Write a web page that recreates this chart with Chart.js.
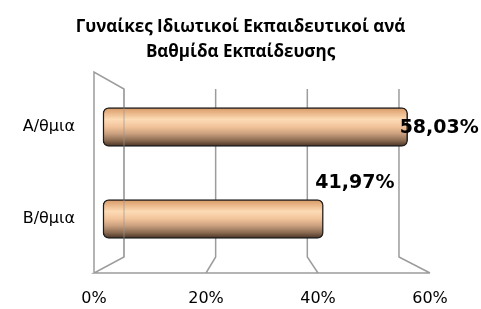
<!DOCTYPE html>
<html>
<head>
<meta charset="utf-8">
<script src="https://cdn.jsdelivr.net/npm/chart.js@4"></script>
<style>
  html, body { margin: 0; padding: 0; background: #fff; }
  #wrap { width: 481px; height: 309px; }
</style>
</head>
<body>
<div id="wrap"><canvas id="chart" width="481" height="309"></canvas></div>
<script>
const categories = ['Α/θμια', 'Β/θμια'];
const values = [58.03, 41.97];
const tickValues = [0, 20, 40, 60];
const titleLines = ['Γυναίκες Ιδιωτικοί Εκπαιδευτικοί ανά', 'Βαθμίδα Εκπαίδευσης'];

const gridColor = '#9c9c9c';

// back wall / floor of the fake 3d frame
const framePlugin = {
  id: 'frame',
  beforeDatasetsDraw(chart) {
    const ctx = chart.ctx;
    const area = chart.chartArea;
    const front = chart.scales.xt;
    const back = chart.scales.xg;
    const fTop = area.top - 9, fBot = area.bottom + 8;
    const bTop = area.top + 8, bBot = area.bottom - 8;

    ctx.save();
    ctx.strokeStyle = gridColor;
    ctx.lineWidth = 1.5;
    ctx.beginPath();
    // left wall
    const f0 = front.getPixelForValue(0), b0 = back.getPixelForValue(0);
    ctx.moveTo(f0, fBot);
    ctx.lineTo(f0, fTop);
    ctx.lineTo(b0, bTop);
    ctx.lineTo(b0, bBot);
    ctx.lineTo(f0, fBot);
    // floor front edge
    ctx.lineTo(front.getPixelForValue(tickValues[tickValues.length - 1]), fBot);
    // gridlines on back wall, running down to the floor
    tickValues.slice(1).forEach(v => {
      const bx = back.getPixelForValue(v);
      ctx.moveTo(bx, bTop);
      ctx.lineTo(bx, bBot);
      ctx.lineTo(front.getPixelForValue(v), fBot);
    });
    ctx.stroke();
    ctx.restore();
  }
};

const valueLabels = {
  id: 'valueLabels',
  afterDatasetsDraw(chart) {
    const ctx = chart.ctx;
    const area = chart.chartArea;
    const shift = [[-8, 1], [-8, -36]];
    ctx.save();
    // the wall edge shows faintly through the bars
    const b0 = chart.scales.xg.getPixelForValue(0);
    ctx.strokeStyle = 'rgba(150,150,150,0.45)';
    ctx.lineWidth = 1.5;
    ctx.beginPath();
    ctx.moveTo(b0, area.top + 8);
    ctx.lineTo(b0, area.bottom - 8);
    ctx.stroke();

    ctx.font = 'bold 19px "DejaVu Sans"';
    ctx.fillStyle = '#000';
    ctx.textBaseline = 'middle';
    ctx.textAlign = 'left';
    chart.getDatasetMeta(0).data.forEach((bar, i) => {
      const txt = values[i].toFixed(2).replace('.', ',') + '%';
      ctx.fillText(txt, bar.x + shift[i][0], bar.y + shift[i][1]);
    });
    ctx.restore();
  }
};

function barFill(c) {
  const chart = c.chart;
  if (!chart.chartArea) return '#f2c49c';
  const y = chart.scales.y.getPixelForValue(c.dataIndex);
  const g = chart.ctx.createLinearGradient(0, y - 19, 0, y + 19);
  g.addColorStop(0, '#d99a66');
  g.addColorStop(0.3, '#fddbb5');
  g.addColorStop(0.5, '#f2c39a');
  g.addColorStop(0.68, '#c99f7e');
  g.addColorStop(0.86, '#8a6a50');
  g.addColorStop(1, '#4a3526');
  return g;
}

new Chart(document.getElementById('chart'), {
  type: 'bar',
  data: {
    labels: categories,
    datasets: [{
      data: values,
      backgroundColor: barFill,
      borderColor: '#1e1e1e',
      borderWidth: 1.5,
      borderSkipped: false,
      borderRadius: 6,
      barThickness: 39,
      xAxisID: 'x'
    }]
  },
  options: {
    indexAxis: 'y',
    responsive: false,
    animation: false,
    layout: { padding: 0 },
    plugins: {
      legend: { display: false },
      tooltip: { enabled: false },
      title: {
        display: true,
        text: titleLines,
        color: '#000',
        font: { family: '"Open Sans"', size: 17, weight: 'bold', lineHeight: 1.47 },
        padding: { top: 15, bottom: 16 }
      }
    },
    scales: {
      x: { display: false, min: -1.71, max: 62.29 },
      xg: { display: false, min: -6.545, max: 66.77 },
      xt: {
        position: 'bottom',
        min: 0, max: 60,
        grid: { display: false },
        border: { display: false },
        afterFit(s) { s.height = 44; },
        afterBuildTicks(s) { s.ticks = tickValues.map(v => ({ value: v })); },
        ticks: {
          padding: 16,
          color: '#000',
          font: { family: '"DejaVu Sans"', size: 16 },
          callback: v => v + '%'
        }
      },
      y: {
        grid: { display: false },
        border: { display: false },
        afterFit(s) { s.width = 94; },
        ticks: {
          padding: 11,
          color: '#000',
          font: { family: '"DejaVu Sans"', size: 16 }
        }
      },
      // empty axis that only reserves the blank strip on the right
      yr: {
        type: 'linear',
        axis: 'y',
        position: 'right',
        grid: { display: false },
        border: { display: false },
        ticks: { display: false },
        afterFit(s) { s.width = 51; }
      }
    }
  },
  plugins: [framePlugin, valueLabels]
});
</script>
</body>
</html>
